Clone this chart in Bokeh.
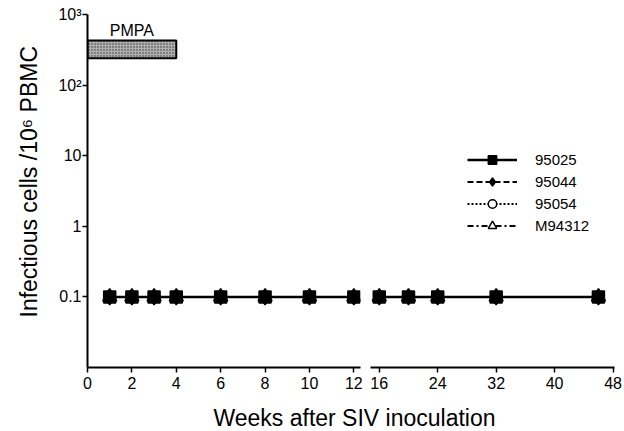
import math
from bokeh.plotting import figure
from bokeh.layouts import row, column
from bokeh.models import FixedTicker, Label, Legend, LegendItem, Range1d, Title
from bokeh.embed import file_html
from bokeh.resources import INLINE

# ---------------- data ----------------
weeks_early = [1, 2, 3, 4, 6, 8, 10, 12]
weeks_late = [16, 20, 24, 32, 46]

series_names = ["95025", "95044", "95054", "M94312"]
values_early = {
    "95025": [0.1, 0.1, 0.1, 0.1, 0.1, 0.1, 0.1, 0.1],
    "95044": [0.1, 0.1, 0.1, 0.1, 0.1, 0.1, 0.1, 0.1],
    "95054": [0.1, 0.1, 0.1, 0.1, 0.1, 0.1, 0.1, 0.1],
    "M94312": [0.1, 0.1, 0.1, 0.1, 0.1, 0.1, 0.1, 0.1],
}
values_late = {
    "95025": [0.1, 0.1, 0.1, 0.1, 0.1],
    "95044": [0.1, 0.1, 0.1, 0.1, 0.1],
    "95054": [0.1, 0.1, 0.1, 0.1, 0.1],
    "M94312": [0.1, 0.1, 0.1, 0.1, 0.1],
}

pmpa_start_week = [0]
pmpa_end_week = [4]
pmpa_low = [240]
pmpa_high = [430]

y_ticks = [0.1, 1, 10, 100, 1000]
y_tick_labels = ["0.1", "1", "10", "10\u00b2", "10\u00b3"]
x_ticks_early = [0, 2, 4, 6, 8, 10, 12]
x_ticks_late = [16, 24, 32, 40, 48]

# ---------------- styles ----------------
FONT = "Liberation Sans"
styles = {
    "95025": dict(marker="square", size=12, fill="black", dash="solid", lw=2.5),
    "95044": dict(marker="diamond", size=16, fill="black", dash="6 3", lw=2),
    "95054": dict(marker="circle", size=11, fill="white", dash="2 2", lw=2),
    "M94312": dict(marker="triangle", size=14, fill="white", dash="6 3 2 3", lw=2),
}
draw_order = ["M94312", "95054", "95044", "95025"]


def style_axes(p):
    p.grid.visible = False
    p.outline_line_color = None
    p.background_fill_color = "white"
    p.border_fill_color = "white"
    for ax in p.axis:
        ax.axis_line_width = 2
        ax.axis_line_color = "black"
        ax.major_tick_line_width = 1.5
        ax.major_tick_line_color = "black"
        ax.major_tick_in = 0
        ax.major_tick_out = 5
        ax.minor_tick_line_color = None
        ax.major_label_text_font = FONT
        ax.major_label_text_font_size = "16px"
        ax.major_label_text_color = "black"


def draw_series(p, weeks, values):
    rends = {}
    for name in draw_order:
        st = styles[name]
        lr = p.line(weeks, values[name], line_color="black", line_width=st["lw"],
                    line_dash=st["dash"])
        sr = p.scatter(weeks, values[name], marker=st["marker"], size=st["size"],
                       fill_color=st["fill"], line_color="black", line_width=1.5)
        rends[name] = [lr, sr]
    return rends


common = dict(height=397, y_axis_type="log", y_range=Range1d(0.01, 1000),
              output_backend="svg", toolbar_location=None,
              min_border_top=14, min_border_bottom=30)

# ---------------- left panel (0-12 weeks) ----------------
p1 = figure(width=365, x_range=Range1d(0, 12.3), min_border_left=87,
            min_border_right=5, **common)
style_axes(p1)
p1.xaxis.ticker = FixedTicker(ticks=x_ticks_early)
p1.xaxis.major_label_standoff = 4
p1.yaxis.ticker = FixedTicker(ticks=y_ticks)
p1.yaxis.major_label_overrides = dict(zip(y_ticks, y_tick_labels))
p1.yaxis.major_label_standoff = 1

p1.quad(left=pmpa_start_week, right=pmpa_end_week, bottom=pmpa_low, top=pmpa_high,
        fill_color="#b0b0b0", hatch_pattern="dot", hatch_color="#333333",
        hatch_scale=3, hatch_weight=1, line_color="black", line_width=2)
p1.add_layout(Label(x=(pmpa_start_week[0] + pmpa_end_week[0]) / 2, y=585, text="PMPA",
                    text_align="center", text_baseline="alphabetic",
                    text_font=FONT, text_font_size="16px", text_color="black"))

draw_series(p1, weeks_early, values_early)

p1.add_layout(Title(text="Infectious cells /10\u2076 PBMC", align="left", offset=50,
                    vertical_align="top", standoff=24, text_font=FONT,
                    text_font_size="23px", text_font_style="normal",
                    text_color="black"), "left")

# ---------------- right panel (16-48 weeks) ----------------
p2 = figure(width=257, x_range=Range1d(14.8, 48.2), y_axis_location=None,
            min_border_left=5, min_border_right=8, **common)
style_axes(p2)
p2.xaxis.ticker = FixedTicker(ticks=x_ticks_late)
p2.xaxis.major_label_standoff = 4

rends = draw_series(p2, weeks_late, values_late)

legend = Legend(
    items=[LegendItem(label=n, renderers=rends[n]) for n in series_names],
    location=(97, 131), border_line_color=None, background_fill_alpha=0,
    padding=0, margin=0, spacing=1, glyph_width=50, glyph_height=21,
    label_standoff=18, label_text_font=FONT, label_text_font_size="15px",
    label_text_color="black")
p2.add_layout(legend)

# ---------------- x-axis title spanning both panels ----------------
p3 = figure(width=622, height=34, output_backend="svg", toolbar_location=None,
            x_axis_location=None, y_axis_location=None, min_border=0,
            outline_line_color=None)
p3.grid.visible = False
p3.add_layout(Label(x=354, y=14, x_units="screen", y_units="screen",
                    text="Weeks after SIV inoculation", text_align="center",
                    text_baseline="alphabetic", text_font=FONT,
                    text_font_size="23px", text_color="black"))

layout = column(row(p1, p2), p3)

open("out.html", "w").write(file_html(layout, INLINE))
